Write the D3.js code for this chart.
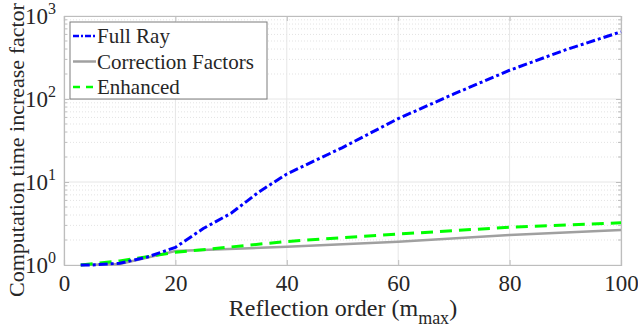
<!DOCTYPE html>
<html><head>
<script src="https://cdn.jsdelivr.net/npm/d3@7"></script>
</head><body style="margin:0;background:#fff"><svg id="c" width="638" height="332" style="display:block"></svg>
<script>
const xs = [3, 5, 10, 15, 20, 25, 30, 35, 40, 50, 60, 70, 80, 90, 100];
const fullRay = [1.0, 1.0, 1.05, 1.25, 1.63, 2.75, 4.2, 7.6, 12.5, 26, 58, 115, 222, 390, 645];
const corrX = [3, 10, 20, 40, 60, 80, 100];
const corrVals = [1.0, 1.03, 1.47, 1.66, 1.91, 2.3, 2.64];
const enhX = [3, 10, 20, 40, 60, 80, 100];
const enhVals = [1.0, 1.12, 1.42, 1.92, 2.36, 2.85, 3.23];
const xTicks = [0, 20, 40, 60, 80, 100];
const yExps = [0, 1, 2, 3];
const names = ["Full Ray", "Correction Factors", "Enhanced"];

const svg = d3.select("#c");
const L = 64, R = 621, T = 16, B = 265;
const x = d3.scaleLinear().domain([0, 100]).range([L, R]);
const y = d3.scaleLog().domain([1, 1000]).range([B, T]);
const sf = sel => sel.style("font-family", '"Times New Roman"');

const minor = [];
for (let e = 0; e < 3; e++) for (let k = 2; k <= 9; k++) minor.push(k * Math.pow(10, e));
svg.append("g").selectAll("line").data(minor).join("line")
  .attr("x1", L).attr("x2", R).attr("y1", d => y(d)).attr("y2", d => y(d))
  .attr("stroke", "#e3e3e3").attr("stroke-width", 1).attr("stroke-dasharray", "1,2");
svg.append("g").selectAll("line").data(yExps.map(e => Math.pow(10, e))).join("line")
  .attr("x1", L).attr("x2", R).attr("y1", d => y(d)).attr("y2", d => y(d))
  .attr("stroke", "#e6e6e6").attr("stroke-width", 1);
svg.append("g").selectAll("line").data(xTicks).join("line")
  .attr("x1", d => x(d)).attr("x2", d => x(d)).attr("y1", T).attr("y2", B)
  .attr("stroke", "#e6e6e6").attr("stroke-width", 1);

const axCol = "#bdbdbd";
const gx = svg.append("g").attr("transform", `translate(0,${B})`)
  .call(d3.axisBottom(x).tickValues(xTicks).tickSize(-5).tickPadding(10).tickFormat(d3.format("d")));
const gxt = svg.append("g").attr("transform", `translate(0,${T})`)
  .call(d3.axisTop(x).tickValues(xTicks).tickSize(-5).tickFormat(""));
const gy = svg.append("g").attr("transform", `translate(${L},0)`)
  .call(d3.axisLeft(y).tickValues(yExps.map(e => Math.pow(10, e))).tickSize(-5).tickFormat(""));
const gyr = svg.append("g").attr("transform", `translate(${R},0)`)
  .call(d3.axisRight(y).tickValues(yExps.map(e => Math.pow(10, e))).tickSize(-5).tickFormat(""));
[gy, gyr].forEach((g, i) => {
  g.selectAll(null).data(minor).join("line")
    .attr("x1", 0).attr("x2", i === 0 ? 3 : -3).attr("y1", d => y(d)).attr("y2", d => y(d))
    .attr("stroke", axCol);
});
[gx, gxt, gy, gyr].forEach(g => {
  g.attr("font-family", null).attr("font-size", null);
  g.select(".domain").attr("stroke", axCol).attr("stroke-width", 1.2);
  g.selectAll(".tick line").attr("stroke", axCol);
  g.selectAll("text").attr("font-size", 23).attr("fill", "#262626").call(sf);
});
const yl = svg.append("g");
yExps.forEach(e => {
  const t = yl.append("text").attr("x", L - 8).attr("y", y(Math.pow(10, e)) + 8)
    .attr("text-anchor", "end").attr("font-size", 23).attr("fill", "#262626").call(sf);
  t.append("tspan").text("10");
  t.append("tspan").attr("dy", -10).attr("font-size", 16).text(e);
});

const line = d3.line().x(d => x(d[0])).y(d => y(d[1]));
svg.append("path").datum(corrX.map((d, i) => [d, corrVals[i]])).attr("d", line)
  .attr("fill", "none").attr("stroke", "#a0a0a0").attr("stroke-width", 2.5);
svg.append("path").datum(enhX.map((d, i) => [d, enhVals[i]])).attr("d", line)
  .attr("fill", "none").attr("stroke", "#00ff00").attr("stroke-width", 3).attr("stroke-dasharray", "12,7");
svg.append("path").datum(xs.map((d, i) => [d, fullRay[i]])).attr("d", line)
  .attr("fill", "none").attr("stroke", "#0000ff").attr("stroke-width", 3).attr("stroke-dasharray", "9,3,3,3");

const xt = svg.append("text").attr("x", 343).attr("y", 316).attr("text-anchor", "middle").attr("font-size", 24)
  .attr("fill", "#262626").call(sf);
xt.append("tspan").text("Reflection order (m");
xt.append("tspan").attr("dy", 8).attr("font-size", 18).text("max");
xt.append("tspan").attr("dy", -8).text(")");
svg.append("text").attr("transform", `translate(24,150) rotate(-90)`)
  .attr("text-anchor", "middle").attr("font-size", 22).attr("fill", "#262626").call(sf)
  .text("Computation time increase factor");

const lg = svg.append("g");
lg.append("rect").attr("x", 70).attr("y", 22).attr("width", 197).attr("height", 77)
  .attr("fill", "#fff").attr("stroke", "#262626").attr("stroke-opacity", 0.6).attr("stroke-width", 1);
const sty = [
  {c: "#0000ff", d: "6,2,2,2", w: 2.5},
  {c: "#a0a0a0", d: null, w: 2.5},
  {c: "#00ff00", d: "7,6", w: 2.5}
];
names.forEach((n, i) => {
  const yy = 36 + i * 25.5;
  lg.append("line").attr("x1", 73).attr("x2", 96).attr("y1", yy).attr("y2", yy)
    .attr("stroke", sty[i].c).attr("stroke-width", sty[i].w).attr("stroke-dasharray", sty[i].d);
  lg.append("text").attr("x", 97).attr("y", yy + 7).attr("font-size", 21).attr("fill", "#262626")
    .call(sf).text(n);
});
</script></body></html>
